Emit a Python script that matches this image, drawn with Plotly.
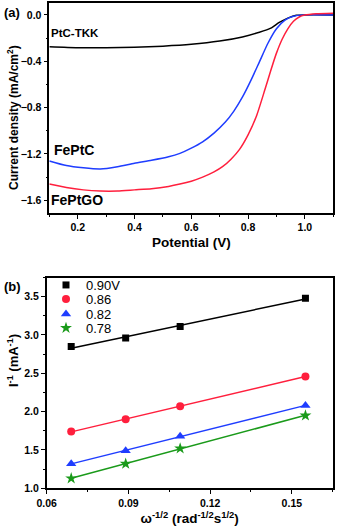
import numpy as np
import plotly.graph_objects as go

## panel (a): LSV curves, potential (V) vs current density (mA/cm2)
ptc_v = [0.10, 0.20, 0.30, 0.40, 0.50, 0.60, 0.70, 0.78, 0.84, 0.88, 0.91, 0.94, 0.97, 1.00, 1.10]
ptc_j = [-0.275, -0.283, -0.283, -0.280, -0.270, -0.254, -0.226, -0.19, -0.15, -0.115, -0.065, -0.028, -0.004, 0.0, 0.0]

feptc_v = [0.10, 0.16, 0.22, 0.28, 0.34, 0.40, 0.46, 0.52, 0.56, 0.60, 0.64, 0.68, 0.72, 0.75,
           0.78, 0.81, 0.84, 0.87, 0.90, 0.93, 0.96, 1.00, 1.10]
feptc_j = [-1.26, -1.30, -1.32, -1.33, -1.31, -1.28, -1.255, -1.225, -1.195, -1.15, -1.095, -1.02, -0.925, -0.83,
           -0.71, -0.565, -0.405, -0.245, -0.12, -0.045, -0.012, 0.0, 0.0]

feptgo_v = [0.10, 0.16, 0.22, 0.28, 0.34, 0.40, 0.46, 0.52, 0.56, 0.60, 0.64, 0.68, 0.71, 0.74, 0.77,
            0.80, 0.83, 0.86, 0.88, 0.90, 0.92, 0.94, 0.96, 0.98, 1.00, 1.04, 1.10]
feptgo_j = [-1.46, -1.49, -1.51, -1.52, -1.52, -1.51, -1.50, -1.48, -1.46, -1.435, -1.40, -1.355, -1.31, -1.245, -1.16,
            -1.035, -0.87, -0.64, -0.48, -0.33, -0.21, -0.12, -0.055, -0.018, -0.002, 0.01, 0.015]

## panel (b): Koutecky-Levich points
omega = [0.069, 0.089, 0.109, 0.155]
inv_i_090 = [2.85, 2.96, 3.11, 3.48]
inv_i_086 = [1.74, 1.90, 2.07, 2.46]
inv_i_082 = [1.32, 1.49, 1.68, 2.08]
inv_i_078 = [1.13, 1.32, 1.52, 1.95]

kl_labels = ["0.90V", "0.86", "0.82", "0.78"]
kl_series = [inv_i_090, inv_i_086, inv_i_082, inv_i_078]
kl_colors = ["#000000", "#ff1f3d", "#1f3dff", "#1a9a1a"]
kl_symbols = ["square", "circle", "triangle-up", "star"]
kl_sizes = [7, 8, 9, 9]
kl_legends = ["legend", "legend2", "legend3", "legend4"]

FONT = "Liberation Sans, Arial, sans-serif"
W, H = 339, 530

fig = go.Figure()

# %% panel (a)
for v, j, c in [(ptc_v, ptc_j, "#000000"), (feptc_v, feptc_j, "#1f3dff"), (feptgo_v, feptgo_j, "#ff1f3d")]:
    fig.add_trace(go.Scatter(x=v, y=j, mode="lines", line=dict(color=c, width=1.5, shape="spline", smoothing=0.6),
                             showlegend=False, xaxis="x", yaxis="y"))

# %% panel (b): points + linear fits
xs = np.array(omega)
for lab, ys, c, s, sz, lg in zip(kl_labels, kl_series, kl_colors, kl_symbols, kl_sizes, kl_legends):
    k, b = np.polyfit(xs, ys, 1)
    fig.add_trace(go.Scatter(x=[xs[0], xs[-1]], y=[k * xs[0] + b, k * xs[-1] + b], mode="lines",
                             line=dict(color=c, width=1.5), showlegend=False, xaxis="x2", yaxis="y2"))
    fig.add_trace(go.Scatter(x=omega, y=ys, mode="markers", name=lab, legend=lg,
                             marker=dict(color=c, symbol=s, size=sz, line=dict(width=0)),
                             xaxis="x2", yaxis="y2"))

ax = dict(showline=True, linecolor="#000000", linewidth=1.5, mirror=True, showgrid=False, zeroline=False,
          automargin=False, ticks="outside", ticklen=4, tickwidth=1.2, tickcolor="#000000",
          tickfont=dict(family=FONT, size=10.5, color="#000000", weight="bold"))
tfont = dict(family=FONT, size=13.5, color="#000000", weight="bold")
lgd = dict(xanchor="left", yanchor="middle", bgcolor="rgba(0,0,0,0)", borderwidth=0,
           font=dict(family=FONT, size=13, color="#000000"), itemsizing="trace")
legend_rows = [285, 299, 314, 328]


def note(text, x, y, size, xref="paper", yref="paper", angle=0, xanchor="left"):
    return dict(text=text, x=x, y=y, xref=xref, yref=yref, xanchor=xanchor, yanchor="middle",
                textangle=angle, showarrow=False,
                font=dict(family=FONT, size=size, color="#000000", weight="bold"))


fig.update_layout(
    width=W, height=H, margin=dict(l=0, r=0, t=0, b=0),
    plot_bgcolor="#ffffff", paper_bgcolor="#ffffff",
    xaxis=dict(ax, domain=[0.1455, 0.983], anchor="y", range=[0.1, 1.1], dtick=0.2, tick0=0.2,
               tickformat=".1f", minor=dict(dtick=0.1, ticks="outside", ticklen=2, tickcolor="#000000"),
               title=dict(text="Potential (V)", font=tfont, standoff=5)),
    yaxis=dict(ax, domain=[0.598, 0.9938], anchor="x", range=[-1.71, 0.1], dtick=0.4, tick0=0,
               tickformat=".1f", minor=dict(dtick=0.2, ticks="outside", ticklen=2, tickcolor="#000000")),
    xaxis2=dict(ax, domain=[0.1377, 0.9814], anchor="y2", range=[0.06, 0.165], dtick=0.03, tick0=0.06,
                tickformat=".2f", minor=dict(dtick=0.015, ticks="outside", ticklen=2, tickcolor="#000000"),
                title=dict(text="ω<sup>-1/2</sup> (rad<sup>-1/2</sup>s<sup>1/2</sup>)", font=tfont, standoff=5)),
    yaxis2=dict(ax, domain=[0.0787, 0.4764], anchor="x2", range=[1.0, 3.75], dtick=0.5, tick0=1.0,
                tickformat=".1f", minor=dict(dtick=0.25, ticks="outside", ticklen=2, tickcolor="#000000")),
    annotations=[
        note("(a)", 0.005, 0.976, 13),
        note("(b)", 0.005, 0.459, 13),
        # y axis titles, placed like the original (slightly off-centre)
        note("Current density (mA/cm<sup>2</sup>)", 13 / W, 1 - 118 / H, 12, angle=-90, xanchor="center"),
        note("I<sup>-1</sup> (mA<sup>-1</sup>)", 13 / W, 1 - 361 / H, 13, angle=-90, xanchor="center"),
        # curve labels
        note("PtC-TKK", 0.1, -0.16, 11.5, xref="x", yref="y"),
        note("FePtC", 0.11, -1.17, 14, xref="x", yref="y"),
        note("FePtGO", 0.1, -1.6, 14, xref="x", yref="y"),
    ],
)
for lg, row in zip(kl_legends, legend_rows):
    fig.update_layout({lg: dict(lgd, x=46 / W, y=1 - row / H)})

# drop the default 8px page margin so the figure sits at the window corner
fig.write_html("out.html", config={"displayModeBar": False},
               post_script="document.body.style.margin='0';")
